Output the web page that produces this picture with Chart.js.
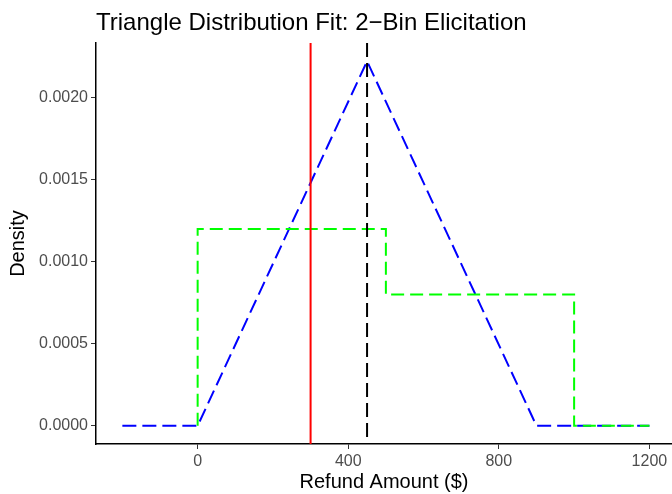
<!DOCTYPE html>
<html>
<head>
<meta charset="utf-8">
<script src="https://cdn.jsdelivr.net/npm/chart.js@4"></script>
<style>
  body { margin: 0; background: #fff; }
  #wrap { width: 672px; height: 494px; position: relative; }
</style>
</head>
<body>
<div id="wrap"><canvas id="myChart"></canvas></div>
<script>
const titleText = "Triangle Distribution Fit: 2\u2212Bin Elicitation";

const xTicks = [0, 400, 800, 1200];
const yTicks = [0, 0.0005, 0.001, 0.0015, 0.002];

// fitted triangle (min 0, mode 450, max 900)
const triX = [-200, 0, 450, 900, 1200];
const triY = [0, 0, 0.002222, 0, 0];

// 2-bin elicited histogram
const binX = [0, 0, 500, 500, 1000, 1000, 1200];
const binY = [0, 0.0012, 0.0012, 0.0008, 0.0008, 0, 0];

const redLineX = [300];
const modeLineX = [450];

const toPoints = (xs, ys) => xs.map((x, i) => ({ x: x, y: ys[i] }));

// vertical reference lines, full plot height
const vLines = {
  id: "vLines",
  afterDatasetsDraw(chart) {
    const { ctx, chartArea, scales } = chart;
    const draw = (vals, color, dash) => {
      vals.forEach((v) => {
        const px = scales.x.getPixelForValue(v);
        ctx.save();
        ctx.strokeStyle = color;
        ctx.lineWidth = 2;
        ctx.setLineDash(dash);
        ctx.beginPath();
        ctx.moveTo(px, chartArea.top);
        ctx.lineTo(px, chartArea.bottom);
        ctx.stroke();
        ctx.restore();
      });
    };
    draw(redLineX, "#ff0000", []);
    draw(modeLineX, "#000000", [14, 6]);
  },
};

// title left-aligned with the panel
const plotTitle = {
  id: "plotTitle",
  afterDraw(chart) {
    const ctx = chart.ctx;
    ctx.save();
    ctx.font = '24px "Liberation Sans", Arial, sans-serif';
    ctx.fillStyle = "#000";
    ctx.textBaseline = "alphabetic";
    ctx.fillText(titleText, chart.chartArea.left, 30);
    ctx.restore();
  },
};

const ctx = document.getElementById("myChart").getContext("2d");

new Chart(ctx, {
  type: "scatter",
  data: {
    datasets: [
      {
        data: toPoints(binX, binY),
        showLine: true,
        borderColor: "#00ff00",
        borderWidth: 2,
        borderDash: [13, 6],
        pointRadius: 0,
        fill: false,
      },
      {
        data: toPoints(triX, triY),
        showLine: true,
        borderColor: "#0000ff",
        borderWidth: 2,
        borderDash: [14, 6],
        pointRadius: 0,
        fill: false,
      },
    ],
  },
  options: {
    responsive: true,
    maintainAspectRatio: false,
    animation: false,
    layout: { padding: { top: 43, right: 0, left: 0, bottom: 0 } },
    plugins: {
      legend: { display: false },
      tooltip: { enabled: false },
      title: { display: false },
    },
    scales: {
      x: {
        type: "linear",
        min: -270,
        max: 1260,
        afterBuildTicks: (scale) => {
          scale.ticks = xTicks.map((v) => ({ value: v }));
        },
        afterFit: (scale) => {
          scale.height = 50;
        },
        grid: {
          display: true,
          drawOnChartArea: false,
          drawTicks: true,
          tickLength: 5,
          color: "#333",
        },
        border: { display: true, color: "#000", width: 1.5 },
        ticks: {
          color: "#4d4d4d",
          font: { family: '"Liberation Sans", Arial', size: 16 },
          padding: 3,
          maxRotation: 0,
          callback: (v) => String(v),
        },
        title: {
          display: true,
          text: "Refund Amount ($)",
          color: "#000",
          font: { family: '"Liberation Sans", Arial', size: 20 },
          padding: { top: 0, bottom: 0 },
        },
      },
      y: {
        type: "linear",
        min: -0.000111,
        max: 0.002333,
        afterBuildTicks: (scale) => {
          scale.ticks = yTicks.map((v) => ({ value: v }));
        },
        afterFit: (scale) => {
          scale.width = 96;
        },
        grid: {
          display: true,
          drawOnChartArea: false,
          drawTicks: true,
          tickLength: 5,
          color: "#333",
        },
        border: { display: true, color: "#000", width: 1.5 },
        ticks: {
          color: "#4d4d4d",
          font: { family: '"Liberation Sans", Arial', size: 16 },
          padding: 3,
          callback: (v) => v.toFixed(4),
        },
        title: {
          display: true,
          text: "Density",
          color: "#000",
          font: { family: '"Liberation Sans", Arial', size: 20 },
          padding: { top: 6, bottom: 0 },
        },
      },
    },
  },
  plugins: [vLines, plotTitle],
});
</script>
</body>
</html>
